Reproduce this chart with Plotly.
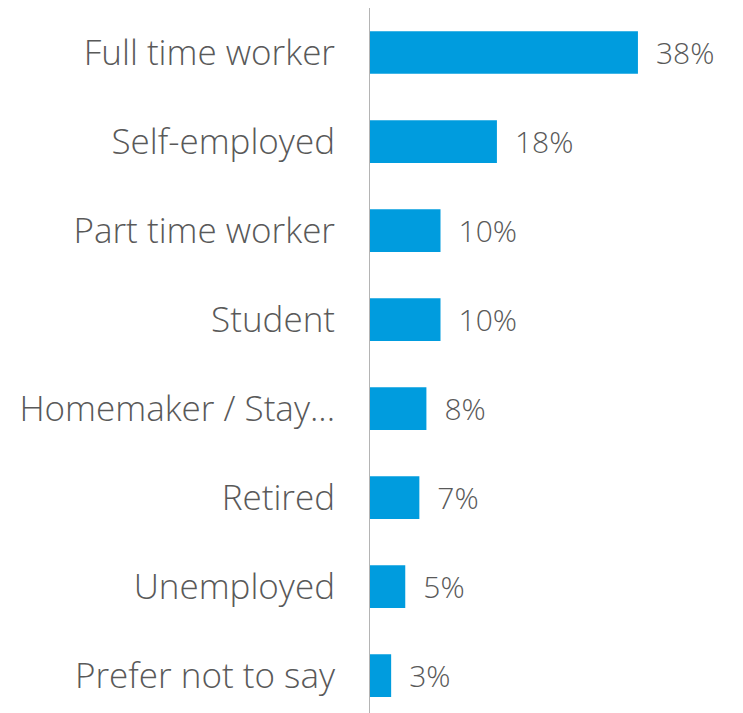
import plotly.graph_objects as go

categories = ['Full time worker', 'Self-employed', 'Part time worker', 'Student',
              'Homemaker / Stay...', 'Retired', 'Unemployed', 'Prefer not to say']
values = [38, 18, 10, 10, 8, 7, 5, 3]

fig = go.Figure(go.Bar(
    x=values,
    y=categories,
    orientation='h',
    marker=dict(color='#009cde', line=dict(width=0)),
    width=0.48,
    text=values,
    texttemplate='\u2002%{x}%',
    textposition='outside',
    cliponaxis=False,
    textfont=dict(family='Open Sans', size=30, color='#595959', weight=300),
))

fig.update_layout(
    width=743,
    height=713,
    margin=dict(l=362, r=8, t=0, b=0),
    paper_bgcolor='white',
    plot_bgcolor='white',
    showlegend=False,
    xaxis=dict(range=[0, 52.9], visible=False, fixedrange=True),
    yaxis=dict(
        type='category',
        categoryorder='array',
        categoryarray=categories,
        range=[7.51, -0.5],
        showline=True,
        linecolor='#b4b4b4',
        linewidth=1,
        showgrid=False,
        ticks='',
        ticklabelstandoff=27,
        tickfont=dict(family='Open Sans', size=35, color='#595959', weight=300),
    ),
)

fig.write_html('out.html')
